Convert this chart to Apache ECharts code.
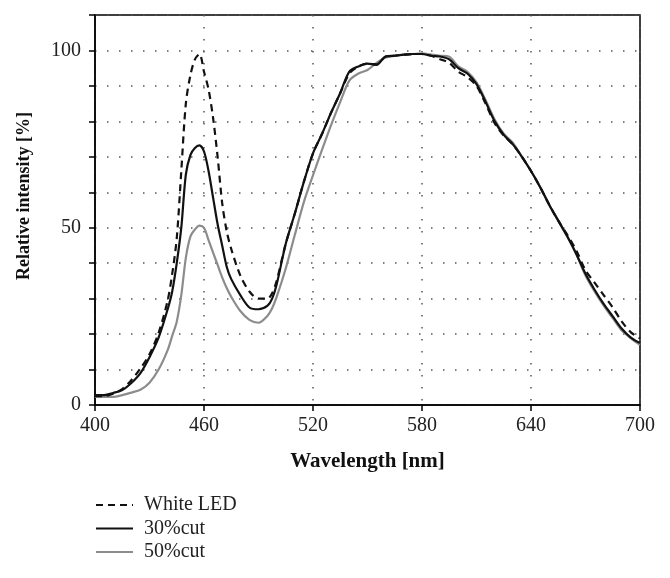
<!DOCTYPE html>
<html>
<head>
<meta charset="utf-8">
<script src="https://cdn.jsdelivr.net/npm/echarts@6/dist/echarts.min.js"></script>
<style>
html,body{margin:0;padding:0;background:#fff;}
#chart{width:670px;height:578px;}
</style>
</head>
<body>
<div id="chart"></div>
<script>
var wavelengths = [400,405,410,415,420,425,430,435,440,442.5,445,447.5,450,452.5,455,457.5,460,462.5,465,467.5,470,472.5,475,480,485,490,495,497.5,500,505,510,515,520,525,530,535,540,545,550,555,560,565,570,575,580,585,590,595,600,605,610,615,620,625,630,635,640,645,650,655,660,665,670,675,680,685,690,695,700];

var whiteLED = [2.5,2.5,3.2,4.5,7,10.3,14.3,20.3,29.5,37,47,66,85,93,97.5,99,94,89,81,70,57,49,44,36.5,32,30,30,31.5,35,45.5,54,63,71,76.5,82.5,88,93.5,95.5,96.3,96,98.3,98.5,98.8,99,99,98.5,97.5,96.5,94,92.5,90,85,79.5,76,73.5,70,66,61.5,56.5,52,48,43.5,38,34.5,31,27.5,23.5,20.5,18.8];

var cut30 = [2.8,2.8,3.4,4.2,6.2,9,13.5,19,27,32,40,50,65,70.5,72.5,73.2,71.5,66,58.5,51,45,39,35.5,31,27.5,27,28,30,34,45.5,54,63,71,76.5,82.5,88,94,95.5,96.3,96,98.3,98.5,98.8,99,99,98.5,98.3,97.5,95,93.5,90.5,85.5,80,76.2,73.5,70,66,61.5,56.5,52,47.5,42.5,37,32.5,28.5,25,21.5,19,17.5];

var cut50 = [2.3,2.3,2.3,2.8,3.5,4.3,6.3,10,15.5,19.5,23.5,31,41.5,47.5,49.5,50.6,50,46.5,43,39.5,36,33,30.5,26.5,24,23.2,25.2,27.3,30.5,38.5,48,57.3,64.8,72,79,85.5,91.5,93.5,94.5,96.5,98,98.5,98.8,99,99.2,98.8,98.5,98.2,95.5,94,91,86,80.5,76.5,74,70,66,61.5,56.5,52,47.5,42.5,36.5,32,28,24.5,21,18.8,17];

var seriesNames = ['White LED','30%cut','50%cut'];
var xTickLabels = [400,460,520,580,640,700];
var yTickLabels = [0,50,100];

function pairs(vals){ return wavelengths.map(function(w,i){ return [w, vals[i]]; }); }

var FONT = '"Liberation Serif", "DejaVu Serif", serif';
var chart = echarts.init(document.getElementById('chart'), null, {renderer:'canvas'});
var dotted = {color:'#555', width:1.5, type:[1.5,10.5]};

chart.setOption({
  animation:false,
  backgroundColor:'#fff',
  grid:{left:95, right:30, top:15, bottom:173, show:true, borderColor:'#000', borderWidth:1.5, backgroundColor:'transparent'},
  legend:{
    orient:'vertical', left:95, top:495, padding:0, itemWidth:37, itemHeight:14, itemGap:3.5,
    itemStyle:{color:'transparent', borderColor:'transparent', borderWidth:0, opacity:0},
    textStyle:{fontFamily:FONT, fontSize:20, color:'#222', lineHeight:20, padding:[0,0,0,6]},
    data:seriesNames
  },
  xAxis:{
    type:'value', min:400, max:700, interval:60,
    name:'Wavelength [nm]', nameLocation:'middle', nameGap:46,
    nameTextStyle:{fontFamily:FONT, fontSize:21, fontWeight:'bold', color:'#111'},
    axisLine:{lineStyle:{color:'#000', width:1.5}},
    axisTick:{show:true, inside:false, length:6, lineStyle:{color:'#000', width:1.5}},
    axisLabel:{fontFamily:FONT, fontSize:20, color:'#222', margin:11,
      formatter:function(v){ return xTickLabels.indexOf(v)>=0 ? String(v) : ''; }},
    splitLine:{show:true, lineStyle:dotted}
  },
  yAxis:{
    type:'value', min:0, max:110, interval:10,
    name:'Relative intensity [%]', nameLocation:'middle', nameGap:62,
    nameTextStyle:{fontFamily:FONT, fontSize:18, fontWeight:'bold', color:'#111', padding:[0,0,0,28]},
    axisLine:{show:true, lineStyle:{color:'#000', width:1.5}},
    axisTick:{show:true, inside:false, length:6, lineStyle:{color:'#000', width:1.5}},
    axisLabel:{fontFamily:FONT, fontSize:20, color:'#222', margin:14,
      formatter:function(v){ return yTickLabels.indexOf(v)>=0 ? String(v) : ''; }},
    splitLine:{show:true, lineStyle:dotted}
  },
  series:[
    {name:seriesNames[0], type:'line', data:pairs(whiteLED), symbol:'none', smooth:0.3, z:3,
     lineStyle:{color:'#111', width:2.2, type:[7,5]}, itemStyle:{color:'#111'}},
    {name:seriesNames[1], type:'line', data:pairs(cut30), symbol:'none', smooth:0.3, z:4,
     lineStyle:{color:'#111', width:2.2, type:'solid'}, itemStyle:{color:'#111'}},
    {name:seriesNames[2], type:'line', data:pairs(cut50), symbol:'none', smooth:0.3, z:2,
     lineStyle:{color:'#8c8c8c', width:2.2, type:'solid'}, itemStyle:{color:'#8c8c8c'}}
  ]
});
</script>
</body>
</html>
